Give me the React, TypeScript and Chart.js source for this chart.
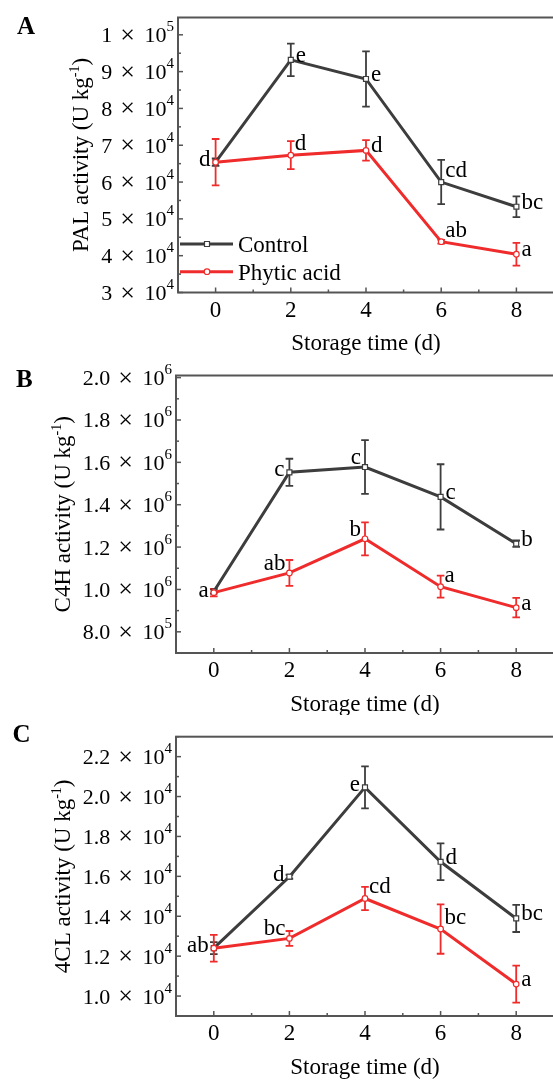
import React, { useEffect, useRef } from "react";
import { Chart, registerables } from "chart.js";
Chart.register(...registerables);

// ---------- data ----------
const days = [0, 2, 4, 6, 8];
const xTickValues = [0, 2, 4, 6, 8];
const xTickLabels = ["0", "2", "4", "6", "8"];
const xTitle = "Storage time (d)";
const seriesNames = ["Control", "Phytic acid"];

// Panel A – PAL
const palControl = [65400, 93200, 88000, 60000, 53300];
const palControlErr = [1000, 4400, 7500, 6000, 2800];
const palPhytic = [65400, 67300, 68600, 43800, 40400];
const palPhyticErr = [6300, 3800, 2800, 500, 3100];
const palControlLetters = ["", "e", "e", "cd", "bc"];
const palPhyticLetters = ["d", "d", "d", "ab", "a"];
const palTicks = [30000, 40000, 50000, 60000, 70000, 80000, 90000, 100000];
const palTickLabels = ["3 × 10^{4}", "4 × 10^{4}", "5 × 10^{4}", "6 × 10^{4}", "7 × 10^{4}", "8 × 10^{4}", "9 × 10^{4}", "1 × 10^{5}"];
const palTitle = "PAL activity (U kg^{-1})";

// Panel B – C4H
const c4hControl = [990000, 1553000, 1578000, 1437000, 1216000];
const c4hControlErr = [10000, 64000, 127000, 154000, 15000];
const c4hPhytic = [985000, 1078000, 1239000, 1013000, 914000];
const c4hPhyticErr = [18000, 61000, 78000, 52000, 46000];
const c4hControlLetters = ["", "c", "c", "c", "b"];
const c4hPhyticLetters = ["a", "ab", "b", "a", "a"];
const c4hTicks = [800000, 1000000, 1200000, 1400000, 1600000, 1800000, 2000000];
const c4hTickLabels = ["8.0 × 10^{5}", "1.0 × 10^{6}", "1.2 × 10^{6}", "1.4 × 10^{6}", "1.6 × 10^{6}", "1.8 × 10^{6}", "2.0 × 10^{6}"];
const c4hTitle = "C4H activity (U kg^{-1})";

// Panel C – 4CL
const clControl = [12400, 15980, 20460, 16730, 13890];
const clControlErr = [300, 100, 1050, 920, 680];
const clPhytic = [12400, 12890, 14890, 13360, 10600];
const clPhyticErr = [670, 370, 580, 1240, 930];
const clControlLetters = ["", "d", "e", "d", "bc"];
const clPhyticLetters = ["ab", "bc", "cd", "bc", "a"];
const clTicks = [10000, 12000, 14000, 16000, 18000, 20000, 22000];
const clTickLabels = ["1.0 × 10^{4}", "1.2 × 10^{4}", "1.4 × 10^{4}", "1.6 × 10^{4}", "1.8 × 10^{4}", "2.0 × 10^{4}", "2.2 × 10^{4}"];
const clTitle = "4CL activity (U kg^{-1})";

// ---------- style ----------
const GRAY = "#3d3d3d";
const RED = "#ef2b2b";
const AXIS = "#555555";
const FONT = '"Liberation Serif", "Times New Roman", serif';
const FS = 23;
const TICK_FS = 22;
const TIMES_FS = 26;
const SUP = 15;
const CANVAS_W = 556;

type Seg = { t: string; sup: boolean };
function parseRich(s: string): Seg[] {
  const out: Seg[] = [];
  const re = /\^\{([^}]*)\}/g;
  let last = 0;
  let m: RegExpExecArray | null;
  while ((m = re.exec(s))) {
    if (m.index > last) out.push({ t: s.slice(last, m.index), sup: false });
    out.push({ t: m[1], sup: true });
    last = re.lastIndex;
  }
  if (last < s.length) out.push({ t: s.slice(last), sup: false });
  return out;
}
function richWidth(ctx: CanvasRenderingContext2D, segs: Seg[], size: number, sup: number) {
  let w = 0;
  for (const s of segs) {
    ctx.font = `${s.sup ? sup : size}px ${FONT}`;
    w += ctx.measureText(s.t).width;
  }
  return w;
}
function drawRich(ctx: CanvasRenderingContext2D, segs: Seg[], x: number, y: number, size: number, sup: number, rise: number) {
  let cx = x;
  ctx.textAlign = "left";
  ctx.textBaseline = "alphabetic";
  for (const s of segs) {
    ctx.font = `${s.sup ? sup : size}px ${FONT}`;
    ctx.fillText(s.t, cx, s.sup ? y - rise : y);
    cx += ctx.measureText(s.t).width;
  }
}
// draws "m × 10^{e}" right-aligned at xr, centred on y; returns left x
function drawSci(ctx: CanvasRenderingContext2D, label: string, xr: number, y: number) {
  const [mant, rest] = label.split(" × ");
  const m = /^(.*)\^\{(.*)\}$/.exec(rest) || [rest, rest, ""];
  const base = m[1];
  const exp = m[2];
  ctx.textAlign = "left";
  ctx.textBaseline = "alphabetic";
  ctx.font = `${SUP}px ${FONT}`;
  const we = ctx.measureText(exp).width;
  ctx.font = `${TICK_FS}px ${FONT}`;
  const wb = ctx.measureText(base).width;
  const wm = ctx.measureText(mant).width;
  ctx.font = `${TIMES_FS}px ${FONT}`;
  const wt = ctx.measureText("×").width;
  const g1 = 8, g2 = 9.5;
  const base_y = y + 7.5;
  let x = xr - we;
  ctx.font = `${SUP}px ${FONT}`;
  ctx.fillText(exp, x, base_y - 11);
  x -= wb;
  ctx.font = `${TICK_FS}px ${FONT}`;
  ctx.fillText(base, x, base_y);
  x -= g2 + wt;
  ctx.font = `${TIMES_FS}px ${FONT}`;
  ctx.fillText("×", x, base_y + 0.5);
  x -= g1 + wm;
  ctx.font = `${TICK_FS}px ${FONT}`;
  ctx.fillText(mant, x, base_y);
  return x;
}

type Panel = {
  letter: string;
  top: number;
  height: number;
  left: number;
  areaTop: number;
  areaBottom: number;
  yMin: number;
  yMax: number;
  ticks: number[];
  tickLabels: string[];
  minorStep: number;
  yTitle: string;
  control: number[];
  controlErr: number[];
  phytic: number[];
  phyticErr: number[];
  controlLetters: string[];
  phyticLetters: string[];
  controlPos: string[];
  phyticPos: string[];
  legend: boolean;
  letterX: number;
  letterY: number;
};

const panels: Panel[] = [
  {
    letter: "A", top: 0, height: 360, left: 178, areaTop: 17.5, areaBottom: 292.5,
    yMin: 30000, yMax: 104700, ticks: palTicks, tickLabels: palTickLabels, minorStep: 5000,
    yTitle: palTitle, control: palControl, controlErr: palControlErr, phytic: palPhytic, phyticErr: palPhyticErr,
    controlLetters: palControlLetters, phyticLetters: palPhyticLetters,
    controlPos: ["r", "r", "r", "ru", "r"], phyticPos: ["l", "ru", "r", "ru", "r"],
    legend: true, letterX: 17, letterY: 34,
  },
  {
    letter: "B", top: 360, height: 355, left: 176, areaTop: 15.5, areaBottom: 293,
    yMin: 700000, yMax: 2010000, ticks: c4hTicks, tickLabels: c4hTickLabels, minorStep: 100000,
    yTitle: c4hTitle, control: c4hControl, controlErr: c4hControlErr, phytic: c4hPhytic, phyticErr: c4hPhyticErr,
    controlLetters: c4hControlLetters, phyticLetters: c4hPhyticLetters,
    controlPos: ["r", "l", "lu", "r", "r"], phyticPos: ["l", "lu", "lu", "ru", "r"],
    legend: false, letterX: 16, letterY: 26.5,
  },
  {
    letter: "C", top: 715, height: 367, left: 176, areaTop: 21.7, areaBottom: 301,
    yMin: 9000, yMax: 23000, ticks: clTicks, tickLabels: clTickLabels, minorStep: 1000,
    yTitle: clTitle, control: clControl, controlErr: clControlErr, phytic: clPhytic, phyticErr: clPhyticErr,
    controlLetters: clControlLetters, phyticLetters: clPhyticLetters,
    controlPos: ["r", "l", "l", "r", "r"], phyticPos: ["l", "lu", "ru", "ru", "r"],
    legend: false, letterX: 12.5, letterY: 26.5,
  },
];

function makePlugin(p: Panel) {
  return {
    id: "decor" + p.letter,
    beforeDatasetsDraw(chart: any) {
      const ctx: CanvasRenderingContext2D = chart.ctx;
      const xs = chart.scales.x;
      const ys = chart.scales.y;
      const bars: [number[], number[], string][] = [
        [p.control, p.controlErr, GRAY],
        [p.phytic, p.phyticErr, RED],
      ];
      ctx.save();
      for (const [vals, errs, col] of bars) {
        ctx.strokeStyle = col;
        ctx.lineWidth = 1.8;
        days.forEach((d, i) => {
          const x = xs.getPixelForValue(d);
          const y1 = ys.getPixelForValue(vals[i] + errs[i]);
          const y2 = ys.getPixelForValue(vals[i] - errs[i]);
          ctx.beginPath();
          ctx.moveTo(x, y1);
          ctx.lineTo(x, y2);
          ctx.moveTo(x - 3.8, y1);
          ctx.lineTo(x + 3.8, y1);
          ctx.moveTo(x - 3.8, y2);
          ctx.lineTo(x + 3.8, y2);
          ctx.stroke();
        });
      }
      ctx.restore();
    },
    afterDraw(chart: any) {
      const ctx: CanvasRenderingContext2D = chart.ctx;
      const xs = chart.scales.x;
      const ys = chart.scales.y;
      const a = chart.chartArea;
      ctx.save();
      // frame
      ctx.strokeStyle = AXIS;
      ctx.lineWidth = 2;
      ctx.strokeRect(a.left, a.top, a.right - a.left, a.bottom - a.top);
      // x ticks
      ctx.lineWidth = 1.5;
      for (let v = -1; v <= 9; v++) {
        const x = xs.getPixelForValue(v);
        const len = v % 2 === 0 ? 5 : 3;
        ctx.beginPath();
        ctx.moveTo(x, a.bottom);
        ctx.lineTo(x, a.bottom - len);
        ctx.stroke();
      }
      // y ticks
      for (let v = p.yMin; v <= p.yMax + 1e-6; v += p.minorStep) {
        const major = p.ticks.some((t) => Math.abs(t - v) < p.minorStep / 10);
        const y = ys.getPixelForValue(v);
        ctx.beginPath();
        ctx.moveTo(a.left, y);
        ctx.lineTo(a.left + (major ? 5 : 3), y);
        ctx.stroke();
      }
      ctx.fillStyle = "#000";
      // y tick labels
      let minLeft = a.left;
      p.ticks.forEach((t, i) => {
        const x0 = drawSci(ctx, p.tickLabels[i], a.left - 4, ys.getPixelForValue(t));
        minLeft = Math.min(minLeft, x0);
      });
      // x tick labels
      ctx.font = `${FS}px ${FONT}`;
      ctx.textAlign = "center";
      ctx.textBaseline = "alphabetic";
      xTickValues.forEach((v, i) => {
        ctx.fillText(xTickLabels[i], xs.getPixelForValue(v), a.bottom + 24);
      });
      // x title
      ctx.fillText(xTitle, xs.getPixelForValue(4), a.bottom + 57.5);
      // y title
      const tsegs = parseRich(p.yTitle);
      const tw = richWidth(ctx, tsegs, FS, 14);
      ctx.save();
      ctx.translate(minLeft - 20, (a.top + a.bottom) / 2);
      ctx.rotate(-Math.PI / 2);
      drawRich(ctx, tsegs, -tw / 2, 7, FS, 14, 9);
      ctx.restore();
      // panel letter
      ctx.font = `bold 25px ${FONT}`;
      ctx.textAlign = "left";
      ctx.fillText(p.letter, p.letterX, p.letterY);
      // significance letters
      ctx.font = `${FS}px ${FONT}`;
      const groups: [number[], string[], string[]][] = [
        [p.control, p.controlLetters, p.controlPos],
        [p.phytic, p.phyticLetters, p.phyticPos],
      ];
      for (const [vals, labs, pos] of groups) {
        days.forEach((d, i) => {
          if (!labs[i]) return;
          const px = xs.getPixelForValue(d);
          const py = ys.getPixelForValue(vals[i]);
          const code = pos[i];
          let dx = 5, dy = -4;
          ctx.textAlign = "left";
          if (code === "ru") { dx = 4; dy = -11; }
          if (code === "l") { dx = -5; dy = -2; ctx.textAlign = "right"; }
          if (code === "lu") { dx = -4; dy = -9; ctx.textAlign = "right"; }
          ctx.fillText(labs[i], px + dx, py + dy + 6);
        });
      }
      // legend
      if (p.legend) {
        const items: [string, string, string][] = [
          [seriesNames[0], GRAY, "rect"],
          [seriesNames[1], RED, "circle"],
        ];
        items.forEach(([name, col, shape], i) => {
          const y = 244 + i * 27.7;
          ctx.strokeStyle = col;
          ctx.lineWidth = 3;
          ctx.beginPath();
          ctx.moveTo(180, y);
          ctx.lineTo(233, y);
          ctx.stroke();
          ctx.fillStyle = "#fff";
          ctx.lineWidth = 1.2;
          ctx.beginPath();
          if (shape === "rect") ctx.rect(204.5, y - 2.5, 5, 5);
          else ctx.arc(207, y, 2.8, 0, Math.PI * 2);
          ctx.fill();
          ctx.stroke();
          ctx.fillStyle = "#000";
          ctx.font = `${FS}px ${FONT}`;
          ctx.textAlign = "left";
          ctx.fillText(name, 238, y + 8);
        });
      }
      ctx.restore();
    },
  };
}

function PanelChart({ p }: { p: Panel }) {
  const ref = useRef<HTMLCanvasElement | null>(null);
  useEffect(() => {
    if (!ref.current) return;
    const chart = new Chart(ref.current, {
      type: "line",
      data: {
        datasets: [
          {
            label: seriesNames[1],
            data: days.map((d, i) => ({ x: d, y: p.phytic[i] })),
            borderColor: RED,
            borderWidth: 3,
            pointStyle: "circle",
            pointRadius: 2.8,
            pointBackgroundColor: "#fff",
            pointBorderColor: RED,
            pointBorderWidth: 1.2,
            tension: 0,
            order: 0,
          },
          {
            label: seriesNames[0],
            data: days.map((d, i) => ({ x: d, y: p.control[i] })),
            borderColor: GRAY,
            borderWidth: 3,
            pointStyle: "rect",
            pointRadius: 3.5,
            pointBackgroundColor: "#fff",
            pointBorderColor: GRAY,
            pointBorderWidth: 1.2,
            tension: 0,
            order: 1,
          },
        ],
      } as any,
      options: {
        animation: false,
        responsive: false,
        devicePixelRatio: 1,
        events: [],
        layout: {
          autoPadding: false,
          padding: { left: p.left, right: CANVAS_W - 554, top: p.areaTop, bottom: p.height - p.areaBottom },
        },
        scales: {
          x: { type: "linear", min: -1, max: 9, display: false },
          y: { type: "linear", min: p.yMin, max: p.yMax, display: false },
        },
        plugins: { legend: { display: false }, tooltip: { enabled: false }, title: { display: false } },
      } as any,
      plugins: [makePlugin(p)],
    });
    return () => chart.destroy();
  }, [p]);
  return (
    <canvas
      ref={ref}
      width={CANVAS_W}
      height={p.height}
      style={{ position: "absolute", left: 0, top: p.top, width: CANVAS_W, height: p.height, display: "block" }}
    />
  );
}

export default function App() {
  return (
    <div style={{ position: "fixed", left: 0, top: 0, width: 553, height: 1082, overflow: "hidden", background: "#fff" }}>
      {panels.map((p) => (
        <PanelChart key={p.letter} p={p} />
      ))}
    </div>
  );
}
